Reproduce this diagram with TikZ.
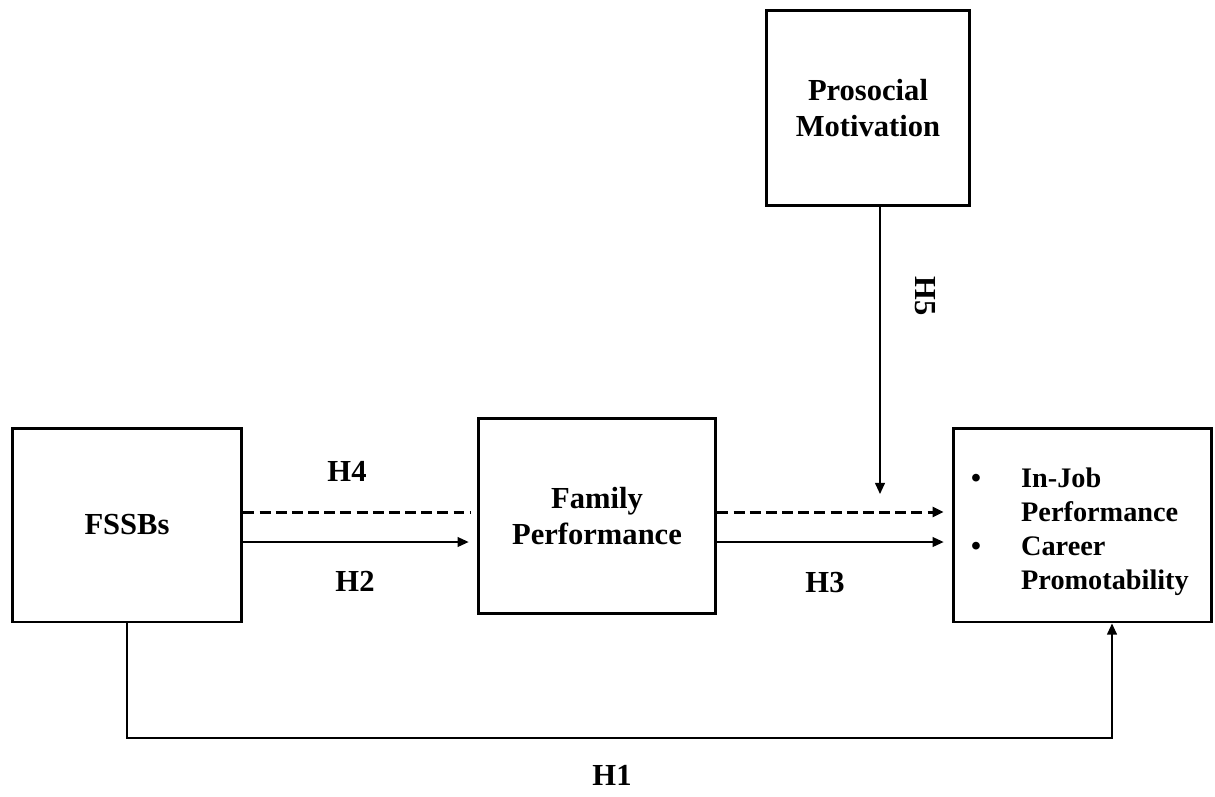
\documentclass[tikz,border=0pt]{standalone}
\usepackage{fontspec}
\setmainfont{Liberation Serif}
\usetikzlibrary{arrows.meta}

\newcommand{\diafont}{\fontsize{17.4}{20}\selectfont\bfseries}
\newcommand{\listfont}{\fontsize{16.1}{19.4}\selectfont\bfseries}

\tikzset{
  box/.style={draw, line width=1.7pt, align=center, font=\diafont},
  link/.style={line width=0.85pt},
  dashlink/.style={line width=1.7pt, dash pattern=on 6.2pt off 3pt},
  lbl/.style={font=\diafont}
}

\begin{document}
\begin{tikzpicture}[x=0.02cm, y=-0.02cm, >={Triangle[length=6.3pt,width=5.6pt]}]
  \useasboundingbox (0,0) rectangle (1215,796);
  % Boxes
  \node[box, minimum width=4.6cm, minimum height=3.88cm] (fssb) at (127,525) {FSSBs};
  \node[box, minimum width=4.76cm, minimum height=3.92cm] (family) at (597,516) {Family\\Performance};
  \node[box, minimum width=4.06cm, minimum height=3.92cm] (prosocial) at (868,108) {Prosocial\\Motivation};
  \node[box, minimum width=5.18cm, minimum height=3.88cm] (outcome) at (1082.5,525) {};
  \node[font=\listfont] (outcomeList) at (1080,532)
    {\begin{tabular}{@{}l@{\hspace{22.8pt}}l@{}}
      \textbullet & In-Job\\
                  & Performance\\
      \textbullet & Career\\
                  & Promotability
     \end{tabular}};
  % Helper points
  \coordinate (r1) at (0,512);
  \coordinate (r2) at (0,542);
  \coordinate (h5end) at (880,494);
  \coordinate (h1a) at (127,738);
  \coordinate (h1b) at (1112,738);
  % Paths
  \draw[dashlink] (fssb.east |- r1) -- ([xshift=-6*0.02cm]family.west |- r1);
  \draw[link,->,shorten >=4.5pt] (fssb.east |- r2) -- (family.west |- r2);
  \draw[dashlink,->,shorten >=4.5pt] (family.east |- r1) -- (outcome.west |- r1);
  \draw[link,->,shorten >=4.5pt] (family.east |- r2) -- (outcome.west |- r2);
  \draw[link,->] (prosocial.south -| h5end) -- (h5end);
  \draw[link,->] (fssb.south -| h1a) -- (h1a) -- (h1b) -- (outcome.south -| h1b);
  % Labels
  \node[lbl] (lblH4) at (347,471) {H4};
  \node[lbl] (lblH2) at (355,581) {H2};
  \node[lbl] (lblH3) at (825,583) {H3};
  \node[lbl, rotate=-90] (lblH5) at (925,296) {H5};
  \node[lbl] (lblH1) at (612,775) {H1};
\end{tikzpicture}
\end{document}
